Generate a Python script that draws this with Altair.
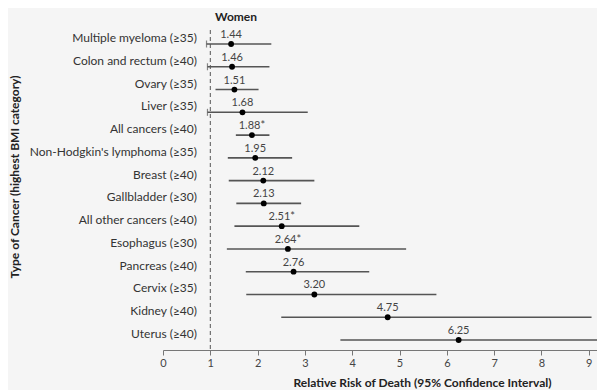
import altair as alt
import pandas as pd

categories = [
    "Multiple myeloma (≥35)",
    "Colon and rectum (≥40)",
    "Ovary (≥35)",
    "Liver (≥35)",
    "All cancers (≥40)",
    "Non-Hodgkin's lymphoma (≥35)",
    "Breast (≥40)",
    "Gallbladder (≥30)",
    "All other cancers (≥40)",
    "Esophagus (≥30)",
    "Pancreas (≥40)",
    "Cervix (≥35)",
    "Kidney (≥40)",
    "Uterus (≥40)",
]
rr = [1.44, 1.46, 1.51, 1.68, 1.88, 1.95, 2.12, 2.13, 2.51, 2.64, 2.76, 3.20, 4.75, 6.25]
rr_text = ["1.44", "1.46", "1.51", "1.68", "1.88*", "1.95", "2.12", "2.13",
           "2.51*", "2.64*", "2.76", "3.20", "4.75", "6.25"]
lower = [0.92, 0.94, 1.11, 0.94, 1.54, 1.37, 1.39, 1.55, 1.51, 1.35, 1.75, 1.76, 2.50, 3.75]
upper = [2.29, 2.25, 2.02, 3.06, 2.25, 2.73, 3.20, 2.92, 4.15, 5.14, 4.36, 5.78, 9.06, 10.42]
x_ticks = [0, 1, 2, 3, 4, 5, 6, 7, 8, 9]

df = pd.DataFrame({"cat": categories, "rr": rr, "txt": rr_text, "lo": lower, "hi": upper})

FONT = "Lato"
xs = alt.Scale(domain=[0, 9.175], nice=False, zero=False)
ys = alt.Scale(type="point", domain=categories, padding=0.461, align=0.524)

xaxis = alt.Axis(
    values=x_ticks, tickSize=5, labelPadding=2, grid=False,
    domainColor="#777777", tickColor="#777777", labelColor="#444444",
    labelFont=FONT, labelFontSize=11, labelFlush=False,
    title="Relative Risk of Death (95% Confidence Interval)",
    titleFont=FONT, titleFontSize=12, titleFontWeight="bold", titleColor="#222222",
    titleX=259, titleY=32, titleAlign="center", titleBaseline="middle")

base = alt.Chart(df)

rules = base.mark_rule(color="#555555", strokeWidth=1.6, clip=True).encode(
    x=alt.X("lo:Q", scale=xs, axis=xaxis),
    x2="hi:Q",
    y=alt.Y("cat:N", scale=ys, axis=None),
)

caps = base.transform_filter("datum.lo < 1").mark_tick(
    color="#555555", thickness=1.2, size=7, orient="vertical").encode(
    x=alt.X("lo:Q", scale=xs, axis=xaxis),
    y=alt.Y("cat:N", scale=ys, axis=None),
)

dots = base.mark_circle(color="black", size=34, opacity=1).encode(
    x=alt.X("rr:Q", scale=xs, axis=xaxis),
    y=alt.Y("cat:N", scale=ys, axis=None),
)

vals = base.mark_text(font=FONT, fontSize=11, color="#444444", dy=-9, baseline="middle").encode(
    x=alt.X("rr:Q", scale=xs, axis=xaxis),
    y=alt.Y("cat:N", scale=ys, axis=None),
    text="txt:N",
)

cat_labels = base.mark_text(font=FONT, fontSize=12, color="#333333", align="right",
                            baseline="middle", dy=-6).encode(
    x=alt.value(34),
    y=alt.Y("cat:N", scale=ys, axis=None),
    text="cat:N",
)

dash = alt.Chart(pd.DataFrame({"v": [1]})).mark_rule(
    color="#555555", strokeWidth=1, strokeDash=[4, 3]).encode(
    x=alt.X("v:Q", scale=xs, axis=xaxis),
    y=alt.value(-3),
    y2=alt.value(317),
)

women = alt.Chart(pd.DataFrame({"t": ["Women"]})).mark_text(
    font=FONT, fontSize=12, fontWeight="bold", color="#222222", baseline="middle").encode(
    x=alt.value(73), y=alt.value(-16), text="t:N")

ytitle = alt.Chart(pd.DataFrame({"t": ["Type of Cancer (highest BMI category)"]})).mark_text(
    font=FONT, fontSize=12, fontWeight="bold", color="#222222", angle=270,
    baseline="middle", align="center").encode(
    x=alt.value(-148), y=alt.value(144), text="t:N")

chart = alt.layer(rules, caps, dash, dots, vals, cat_labels, women, ytitle).properties(
    width=434, height=317,
    autosize=alt.AutoSizeParams(type="none"),
    padding={"left": 155, "top": 25, "right": 0, "bottom": 40},
    background="#f5f5f5",
).configure_view(stroke=None)

chart.save("out.html", embed_options={"renderer": "svg", "actions": False})
